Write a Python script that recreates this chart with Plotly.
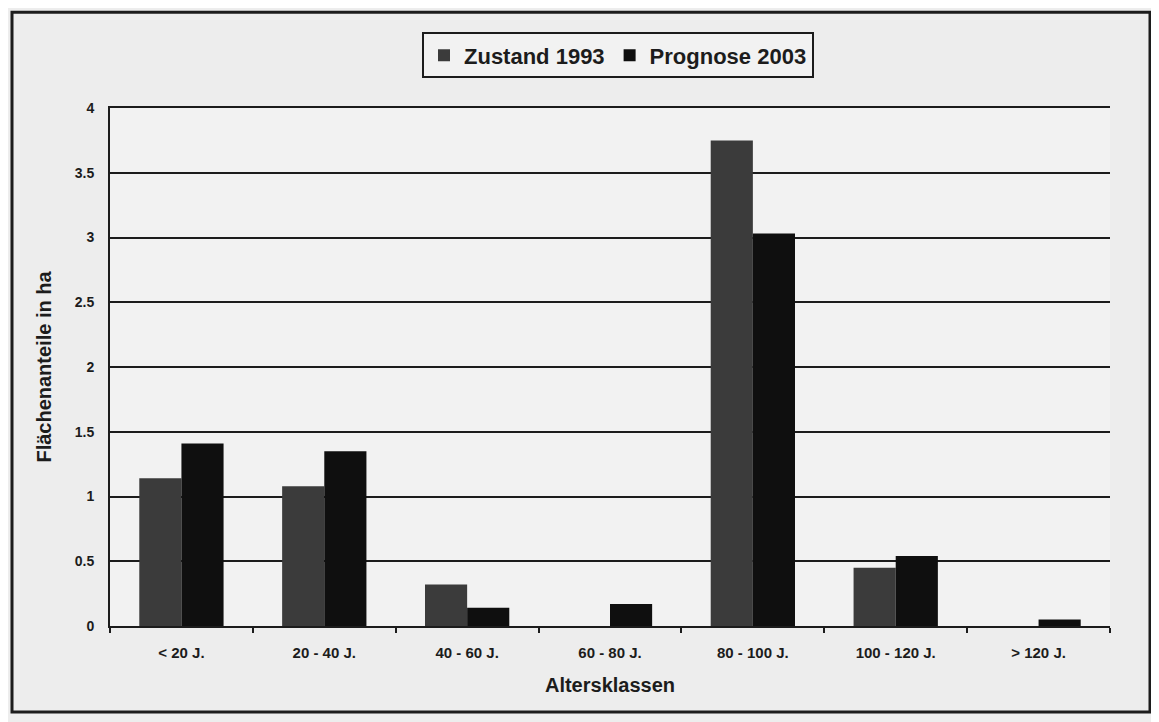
import plotly.graph_objects as go

categories = ["< 20 J.", "20 - 40 J.", "40 - 60 J.", "60 - 80 J.", "80 - 100 J.", "100 - 120 J.", "> 120 J."]
zustand_1993 = [1.14, 1.08, 0.32, 0.0, 3.75, 0.45, 0.0]
prognose_2003 = [1.41, 1.35, 0.14, 0.17, 3.03, 0.54, 0.05]
y_ticks = [0, 0.5, 1, 1.5, 2, 2.5, 3, 3.5, 4]
y_tick_labels = ["0", "0.5", "1", "1.5", "2", "2.5", "3", "3.5", "4"]

FONT = "Liberation Sans, Arial, sans-serif"
INK = "#1c1c1c"

fig = go.Figure()
fig.add_trace(go.Bar(name="Zustand 1993", x=categories, y=zustand_1993,
                     marker=dict(color="#3b3b3b", line=dict(width=0))))
fig.add_trace(go.Bar(name="Prognose 2003", x=categories, y=prognose_2003,
                     marker=dict(color="#0f0f0f", line=dict(width=0))))

fig.update_layout(
    width=1159, height=722,
    paper_bgcolor="#ededed", plot_bgcolor="#f2f2f2",
    margin=dict(l=102, r=57, t=100, b=104),
    barmode="group", bargap=0.41, bargroupgap=0,
    font=dict(family=FONT, color=INK),
    legend=dict(orientation="h", x=0.508, xanchor="center", y=1.146, yanchor="top",
                bgcolor="#f2f2f2", bordercolor=INK, borderwidth=2,
                font=dict(size=22, family=FONT, color=INK, weight="bold"),
                itemwidth=30, traceorder="normal"),
    showlegend=True,
)
fig.update_xaxes(
    type="category", showgrid=False, showline=True, linecolor=INK, linewidth=2, mirror=True,
    ticks="outside", tickson="boundaries", ticklen=5, tickcolor=INK, tickwidth=2,
    ticklabelstandoff=12,
    tickfont=dict(size=15, family=FONT, color=INK, weight="bold"),
    title=dict(text="Altersklassen", font=dict(size=20, family=FONT, color=INK, weight="bold"), standoff=18),
)
fig.update_yaxes(
    range=[0, 4], tickvals=y_ticks, ticktext=y_tick_labels,
    showgrid=True, gridcolor=INK, gridwidth=2,
    showline=True, linecolor=INK, linewidth=2, zeroline=False,
    ticks="", ticklabelstandoff=11,
    tickfont=dict(size=14, family=FONT, color=INK, weight="bold"),
    title=dict(text="Flächenanteile in ha", font=dict(size=20, family=FONT, color=INK, weight="bold"), standoff=18),
)
# outer chart frame
fig.add_shape(type="rect", xref="paper", yref="paper",
              x0=-0.098, x1=1.04, y0=-0.166, y1=1.185,
              line=dict(color=INK, width=3), fillcolor="rgba(0,0,0,0)", layer="below")

fig.write_html("out.html")
